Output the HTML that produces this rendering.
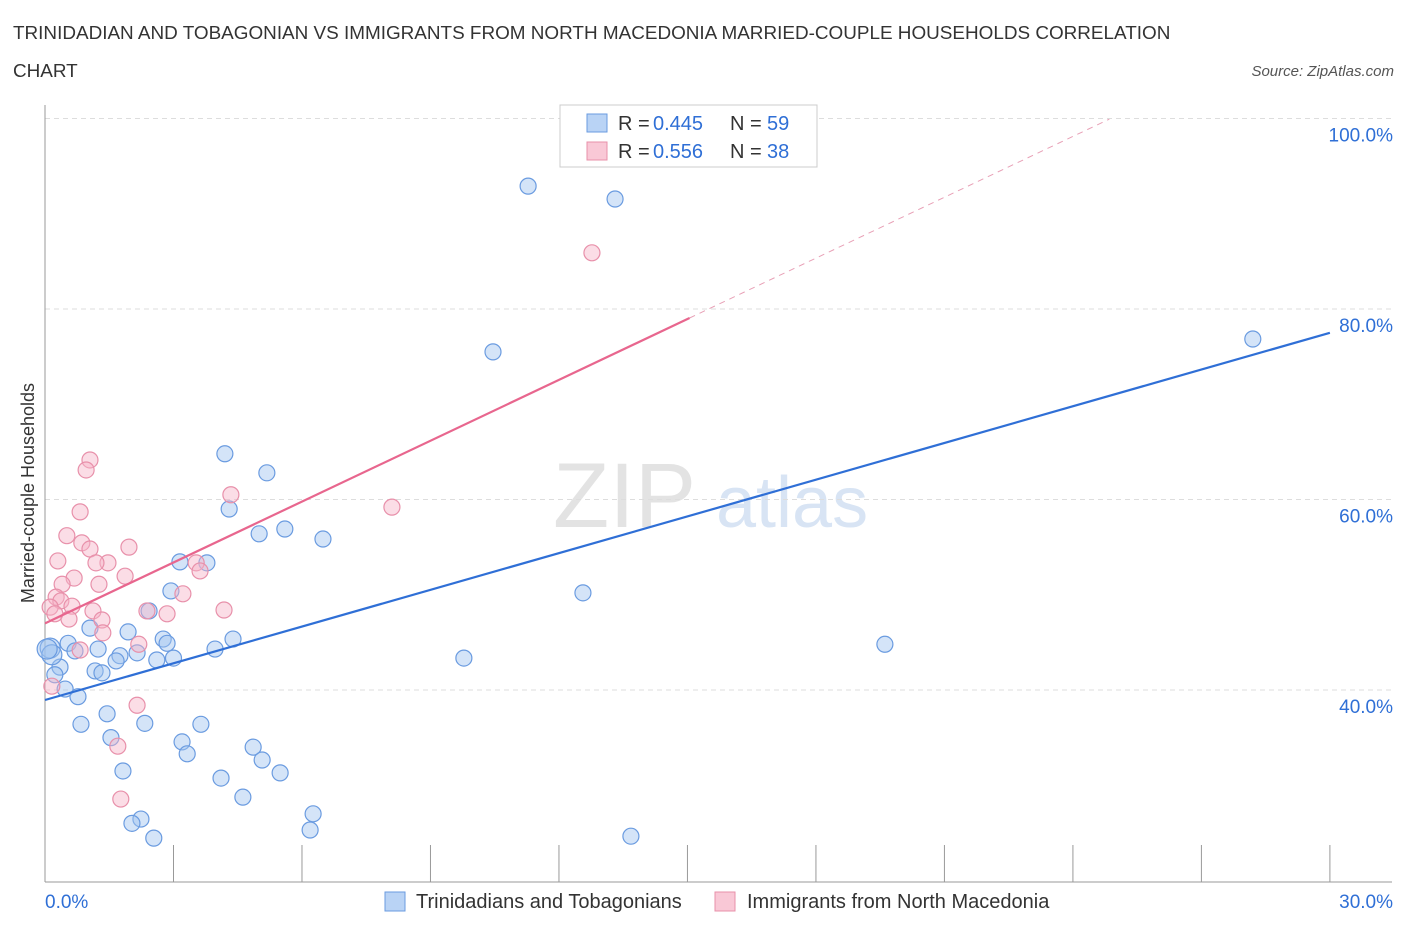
<!DOCTYPE html>
<html><head><meta charset="utf-8"><style>
body{margin:0;background:#fff;font-family:"Liberation Sans",sans-serif;}
svg text{font-family:"Liberation Sans",sans-serif;}
</style></head><body>
<svg id="chart" width="1406" height="930" xmlns="http://www.w3.org/2000/svg">
<text x="13" y="39" font-size="18.9" fill="#333">TRINIDADIAN AND TOBAGONIAN VS IMMIGRANTS FROM NORTH MACEDONIA MARRIED-COUPLE HOUSEHOLDS CORRELATION</text>
<text x="13" y="77" font-size="18.9" fill="#333">CHART</text>
<text x="1394" y="76" font-size="15" font-style="italic" fill="#555" text-anchor="end">Source: ZipAtlas.com</text>
<text x="553" y="527" font-size="92" font-family="Liberation Serif" fill="#ddd" opacity="0.8">ZIP</text>
<text x="716" y="527" font-size="72" fill="#c8daf0" opacity="0.7">atlas</text>
<g id="grid"></g>
<g id="marks"></g>
<g>
<rect x="560" y="105" width="257" height="62" fill="#fff" stroke="#ccc"/>
<rect x="587" y="114" width="20" height="18" fill="#b9d3f5" stroke="#6a9be0"/>
<rect x="587" y="142" width="20" height="18" fill="#f9c8d6" stroke="#e890aa"/>
<text x="618" y="130" font-size="20" fill="#333">R = </text>
<text x="653" y="130" font-size="20" fill="#2f6fd6">0.445</text>
<text x="730" y="130" font-size="20" fill="#333">N = </text>
<text x="767" y="130" font-size="20" fill="#2f6fd6">59</text>
<text x="618" y="158" font-size="20" fill="#333">R = </text>
<text x="653" y="158" font-size="20" fill="#2f6fd6">0.556</text>
<text x="730" y="158" font-size="20" fill="#333">N = </text>
<text x="767" y="158" font-size="20" fill="#2f6fd6">38</text>
</g>
<g>
<rect x="385" y="892" width="20" height="19" fill="#b9d3f5" stroke="#6a9be0"/>
<text x="416" y="908" font-size="20" fill="#333">Trinidadians and Tobagonians</text>
<rect x="715" y="892" width="20" height="19" fill="#f9c8d6" stroke="#e890aa"/>
<text x="747" y="908" font-size="20" fill="#333">Immigrants from North Macedonia</text>
</g>
<text transform="translate(34,493) rotate(-90)" font-size="18" fill="#333" text-anchor="middle">Married-couple Households</text>
</svg>
<script>
const xTicks=[0,3,6,9,12,15,18,21,24,27,30];
const yTicks=[40,60,80,100];
const blueX=[11.28,13.31,10.46,28.2,4.2,5.18,4.3,5.0,5.6,6.49,3.15,3.78,2.94,12.56,2.43,1.05,1.94,2.76,2.85,4.39,19.61,0.54,0.12,1.24,0.7,3.97,2.15,1.75,3.0,2.61,1.66,9.78,0.35,1.17,1.33,0.23,0.47,0.77,1.45,0.84,2.33,3.64,1.54,3.2,3.32,4.86,5.07,1.82,4.11,5.49,4.62,6.26,2.24,2.03,6.19,2.54,13.68,0.16,0.05];
const blueY=[92.9,91.55,75.5,76.85,64.8,62.8,59.0,56.4,56.9,55.85,53.45,53.35,50.4,50.2,48.3,46.5,46.1,45.35,44.9,45.35,44.8,44.9,44.4,44.3,44.1,44.3,43.9,43.6,43.35,43.15,43.05,43.35,42.4,42.0,41.8,41.6,40.1,39.3,37.5,36.4,36.5,36.4,35.0,34.55,33.3,34.0,32.65,31.5,30.75,31.3,28.75,27.0,26.45,26.0,25.3,24.45,24.65,43.7,44.3];
const pinkX=[12.77,1.05,0.96,4.34,8.1,0.82,0.51,0.86,1.05,1.96,0.3,1.47,1.19,3.53,3.62,1.87,0.68,0.4,1.26,3.22,0.26,0.37,0.63,0.12,2.38,1.12,4.18,2.85,0.23,0.56,1.33,1.35,2.19,0.82,0.16,2.15,1.7,1.77];
const pinkY=[85.9,64.15,63.1,60.5,59.2,58.7,56.2,55.45,54.8,55.0,53.55,53.35,53.35,53.35,52.5,51.95,51.75,51.1,51.1,50.1,49.75,49.35,48.8,48.7,48.3,48.3,48.4,48.0,48.0,47.45,47.35,46.0,44.8,44.2,40.4,38.4,34.1,28.55];
const blueFit=[38.95,77.5];
const pinkFit=[47.0,2.13];
const X=v=>45+v*42.83, Y=v=>690-(v-40)*9.525;
const NS="http://www.w3.org/2000/svg";
function mk(t,a,p){const e=document.createElementNS(NS,t);for(const k in a)e.setAttribute(k,a[k]);p.appendChild(e);return e;}
const g=document.getElementById('grid'), m=document.getElementById('marks');
yTicks.forEach(t=>{
 const l=mk('line',{x1:45,x2:1392,y1:Y(t),y2:Y(t),stroke:'#ddd','stroke-dasharray':'5,4'},g);
 
 
 const tx=mk('text',{x:1393,y:Y(t)+23,'font-size':19,fill:'#2f6fd6','text-anchor':'end'},g);
 tx.textContent=t.toFixed(1)+'%';
 
 
});
const ax=mk('line',{x1:45,x2:45,y1:105,y2:882,stroke:'#999'},g);


const bx=mk('line',{x1:45,x2:1392,y1:882,y2:882,stroke:'#999'},g);


xTicks.forEach(t=>{
 const l=mk('line',{x1:X(t),x2:X(t),y1:845,y2:882,stroke:'#999'},g);
 
 
});
[[0,'start'],[30,'end']].forEach(([t,a])=>{
 const tx=mk('text',{x:t===0?45:1393,y:908,'font-size':19,fill:'#2f6fd6','text-anchor':a},g);
 tx.textContent=t.toFixed(1)+'%';
 
 
});
blueX.forEach((x,i)=>{
 const c=mk('circle',{cx:X(x),cy:Y(blueY[i]),r:(i>=57||i===22)?10:8,fill:'rgba(160,196,240,0.45)',stroke:'#6a9be0','stroke-width':1.2},m);
 
 
});
pinkX.forEach((x,i)=>{
 const c=mk('circle',{cx:X(x),cy:Y(pinkY[i]),r:8,fill:'rgba(246,180,200,0.45)',stroke:'#e890aa','stroke-width':1.2},m);
 
 
});
const bl=mk('line',{x1:X(0),y1:Y(blueFit[0]),x2:X(30),y2:Y(blueFit[1]),stroke:'#2f6fd6','stroke-width':2.2},m);


const pl=mk('line',{x1:X(0),y1:Y(pinkFit[0]),x2:X(15.05),y2:Y(pinkFit[0]+pinkFit[1]*15.05),stroke:'#e8668e','stroke-width':2.2},m);


const pd=mk('line',{x1:X(15.05),y1:Y(pinkFit[0]+pinkFit[1]*15.05),x2:X(24.85),y2:Y(pinkFit[0]+pinkFit[1]*24.85),stroke:'#e8a0b6','stroke-width':1,'stroke-dasharray':'6,5'},m);


</script>
</body></html>
